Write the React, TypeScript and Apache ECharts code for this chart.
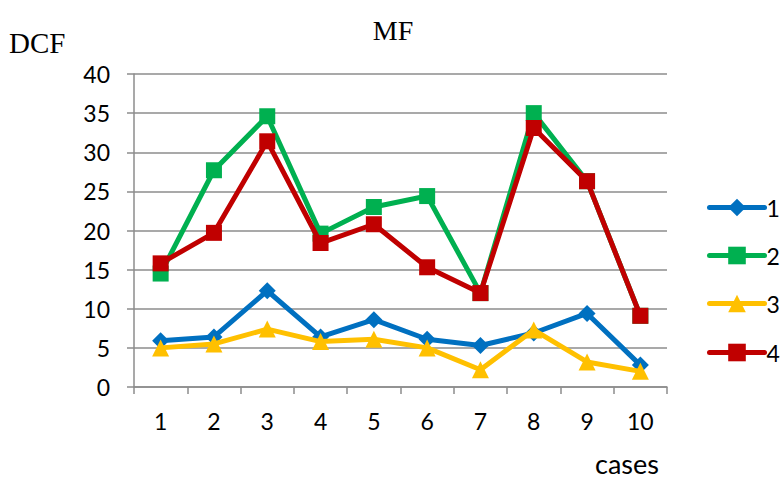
import React, { useEffect, useRef } from "react";
import * as echarts from "echarts";

const cases = ["1", "2", "3", "4", "5", "6", "7", "8", "9", "10"];
const series1 = [5.9, 6.4, 12.3, 6.4, 8.6, 6.1, 5.3, 6.9, 9.4, 2.8];
const series2 = [14.5, 27.7, 34.6, 19.6, 23.0, 24.4, 12.0, 35.0, 26.3, 9.1];
const series3 = [5.0, 5.5, 7.4, 5.8, 6.1, 5.0, 2.2, 7.3, 3.2, 2.0];
const series4 = [15.8, 19.7, 31.4, 18.4, 20.8, 15.3, 12.0, 33.1, 26.3, 9.1];
const seriesNames = ["1", "2", "3", "4"];
const yTicks = { min: 0, max: 40, interval: 5 };

const colors = ["#0070C0", "#00B050", "#FFC000", "#C00000"];
const symbols = ["diamond", "rect", "triangle", "rect"];
const symbolSizes = [17, 16, 17, 16];
const sans = "Lato, 'Open Sans', sans-serif";
const serif = "'Liberation Serif', 'DejaVu Serif', serif";
const axisGray = "#8c8c8c";

export default function App() {
  const ref = useRef<HTMLDivElement>(null);

  useEffect(() => {
    if (!ref.current) return;
    const chart = echarts.init(ref.current, null, { renderer: "svg" });
    const data = [series1, series2, series3, series4];
    const legendCenters = [207, 255, 303, 352];

    chart.setOption({
      animation: false,
      backgroundColor: "#ffffff",
      title: {
        text: "MF",
        left: 388,
        top: 11,
        textAlign: "center",
        textStyle: { fontFamily: serif, fontSize: 28, fontWeight: "normal", color: "#000" },
      },
      graphic: [
        {
          type: "text",
          x: 9,
          y: 43,
          style: {
            text: "DCF",
            fontFamily: serif,
            fontSize: 29,
            fill: "#000",
            verticalAlign: "middle",
          },
        },
        {
          type: "text",
          x: 595,
          y: 463,
          style: {
            text: "cases",
            fontFamily: sans,
            fontSize: 27,
            fill: "#000",
            verticalAlign: "middle",
          },
        },
      ],
      legend: seriesNames.map((n, i) => ({
        data: [n],
        orient: "vertical",
        left: 707,
        top: legendCenters[i] - 11,
        padding: 0,
        itemWidth: 55,
        itemHeight: 22,
        itemGap: 0,
        lineStyle: { width: 5, cap: "round" },
        textStyle: { fontFamily: sans, fontSize: 23, color: "#000", padding: [0, 0, 0, -3] },
      })),
      grid: { left: 134, right: 115, top: 74, bottom: 95 },
      xAxis: {
        type: "category",
        data: cases,
        boundaryGap: true,
        axisLine: { lineStyle: { color: axisGray, width: 1.5 } },
        axisTick: { show: true, length: 7, lineStyle: { color: axisGray, width: 1.5 } },
        axisLabel: { margin: 22, fontFamily: sans, fontSize: 23, color: "#000" },
      },
      yAxis: {
        type: "value",
        min: yTicks.min,
        max: yTicks.max,
        interval: yTicks.interval,
        axisLine: { show: true, lineStyle: { color: axisGray, width: 1.5 } },
        axisTick: { show: true, length: 7, lineStyle: { color: axisGray, width: 1.5 } },
        axisLabel: { margin: 24, fontFamily: sans, fontSize: 23, color: "#000" },
        splitLine: { lineStyle: { color: axisGray, width: 1.5 } },
      },
      series: seriesNames.map((n, i) => ({
        name: n,
        type: "line",
        data: data[i],
        symbol: symbols[i],
        symbolSize: symbolSizes[i],
        showAllSymbol: true,
        itemStyle: { color: colors[i] },
        lineStyle: { color: colors[i], width: 5, cap: "round", join: "round" },
        z: 2 + i,
      })),
    });

    return () => chart.dispose();
  }, []);

  return (
    <div
      ref={ref}
      style={{ position: "absolute", left: 0, top: 0, width: 782, height: 482 }}
    />
  );
}
